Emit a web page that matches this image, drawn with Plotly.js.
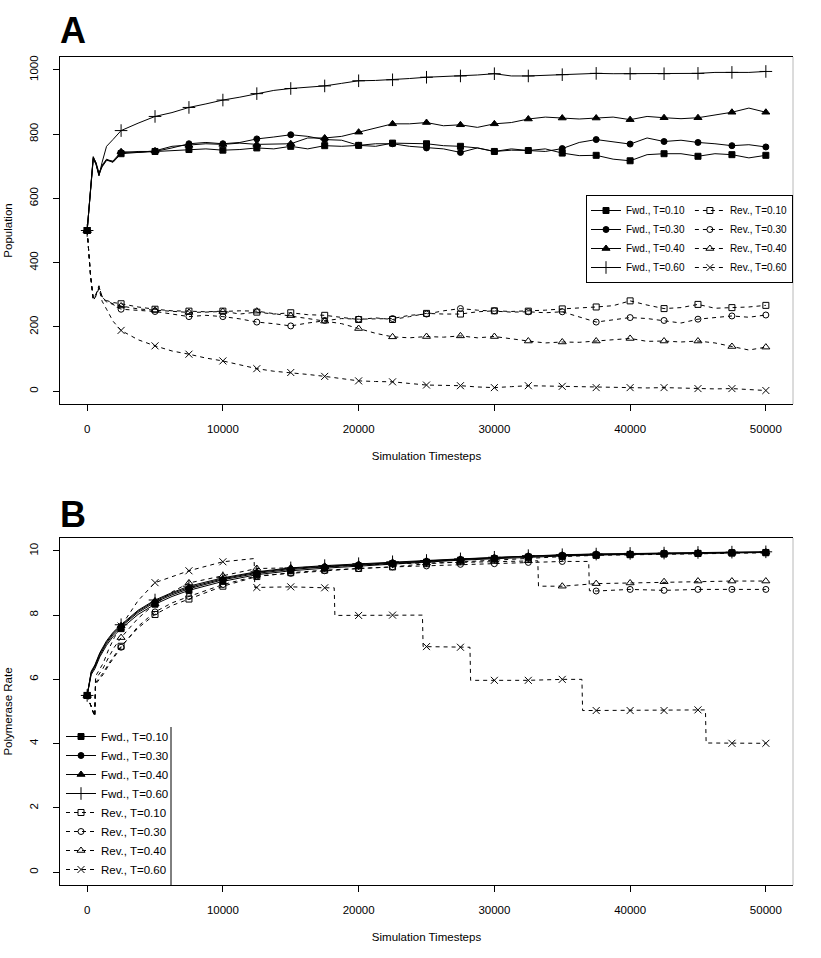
<!DOCTYPE html>
<html><head><meta charset="utf-8">
<script src="https://cdn.plot.ly/plotly-3.0.1.min.js"></script>
<style>html,body{margin:0;padding:0;background:#fff}</style>
</head><body><div id="chart" style="width:821px;height:958px"></div>
<script>
// ---------- tick labels ----------
const tickValsX = [0, 10000, 20000, 30000, 40000, 50000];
const tickTextX = ['0', '10000', '20000', '30000', '40000', '50000'];
const tickValsA = [0, 200, 400, 600, 800, 1000];
const tickTextA = ['0', '200', '400', '600', '800', '1000'];
const tickValsB = [0, 2, 4, 6, 8, 10];
const tickTextB = ['0', '2', '4', '6', '8', '10'];

const seriesNames = ['Fwd., T=0.10', 'Fwd., T=0.30', 'Fwd., T=0.40', 'Fwd., T=0.60',
                     'Rev., T=0.10', 'Rev., T=0.30', 'Rev., T=0.40', 'Rev., T=0.60'];

// ---------- Panel A : Population ----------
const xA = [0, 250, 450, 650, 870, 1100, 1430, 1900, 2500, 3750, 5000, 6250, 7500, 8750, 10000, 11250, 12500, 13750, 15000, 16250, 17500, 18750, 20000, 21250, 22500, 23750, 25000, 26250, 27500, 28750, 30000, 31250, 32500, 33750, 35000, 36250, 37500, 38750, 40000, 41250, 42500, 43750, 45000, 46250, 47500, 48750, 50000];
const fwdA10 = [500, 640, 725, 705, 672, 700, 720, 712, 739, 743, 746, 750, 752, 754, 750, 752, 757, 754, 762, 754, 764, 762, 765, 762, 772, 772, 770, 764, 762, 757, 746, 750, 749, 754, 741, 733, 734, 722, 717, 736, 739, 739, 731, 739, 736, 726, 734];
const fwdA30 = [500, 640, 722, 708, 675, 703, 722, 714, 742, 746, 746, 757, 770, 774, 770, 774, 785, 791, 798, 793, 783, 781, 765, 770, 770, 762, 757, 754, 743, 757, 746, 754, 749, 746, 755, 774, 783, 777, 769, 788, 777, 781, 774, 770, 764, 767, 760];
const fwdA40 = [500, 640, 728, 712, 680, 698, 718, 716, 745, 743, 748, 762, 765, 770, 768, 772, 768, 770, 770, 788, 788, 793, 806, 819, 832, 832, 836, 826, 829, 821, 832, 836, 847, 853, 850, 847, 850, 853, 845, 855, 851, 848, 851, 860, 868, 881, 868];
const fwdA60 = [500, 640, 730, 710, 670, 712, 762, 783, 811, 834, 855, 867, 883, 894, 906, 915, 926, 936, 942, 946, 950, 958, 966, 967, 969, 973, 977, 979, 981, 984, 988, 981, 981, 983, 985, 988, 989, 988, 988, 988, 988, 988, 989, 992, 992, 992, 995];
const revA10 = [500, 360, 290, 300, 325, 295, 282, 276, 272, 262, 255, 250, 249, 247, 249, 240, 246, 240, 244, 238, 236, 230, 223, 228, 223, 232, 242, 240, 240, 247, 250, 248, 249, 252, 256, 258, 262, 266, 281, 268, 257, 260, 270, 258, 260, 262, 267];
const revA30 = [500, 360, 285, 298, 322, 290, 278, 270, 255, 252, 248, 240, 232, 236, 232, 225, 215, 210, 203, 212, 220, 226, 224, 226, 226, 236, 240, 250, 257, 252, 250, 246, 247, 244, 247, 232, 215, 222, 229, 226, 220, 212, 224, 230, 234, 230, 237];
const revA40 = [500, 360, 288, 302, 328, 292, 280, 272, 265, 256, 252, 248, 245, 246, 248, 250, 249, 242, 235, 226, 218, 210, 195, 180, 169, 166, 170, 168, 172, 166, 170, 162, 156, 150, 153, 152, 156, 160, 164, 155, 156, 153, 156, 150, 139, 128, 137];
const revA60 = [500, 360, 282, 296, 320, 280, 255, 218, 189, 160, 141, 125, 115, 103, 94, 82, 70, 62, 58, 52, 46, 38, 32, 30, 29, 24, 19, 18, 17, 13, 11, 14, 17, 16, 15, 12, 11, 11, 11, 10, 11, 9, 8, 7, 8, 5, 2];

// ---------- Panel B : Polymerase Rate ----------
const xBf = [0, 300, 570, 935, 1430, 1920, 2500, 3750, 5000, 6250, 7500, 10000, 12500, 15000, 17500, 20000, 22500, 25000, 27500, 30000, 32500, 35000, 37500, 40000, 42500, 45000, 47500, 50000];
const fwdB10 = [5.5, 6.15, 6.33, 6.7, 7.06, 7.34, 7.58, 8.02, 8.34, 8.58, 8.77, 9.05, 9.26, 9.38, 9.46, 9.53, 9.6, 9.65, 9.71, 9.76, 9.81, 9.84, 9.87, 9.89, 9.91, 9.92, 9.94, 9.95];
const fwdB30 = [5.5, 6.2, 6.38, 6.75, 7.12, 7.4, 7.64, 8.08, 8.4, 8.63, 8.82, 9.1, 9.3, 9.42, 9.5, 9.56, 9.62, 9.67, 9.73, 9.78, 9.83, 9.86, 9.89, 9.9, 9.92, 9.93, 9.95, 9.96];
const fwdB40 = [5.5, 6.22, 6.42, 6.8, 7.16, 7.44, 7.67, 8.12, 8.44, 8.67, 8.86, 9.13, 9.33, 9.45, 9.52, 9.58, 9.64, 9.69, 9.74, 9.79, 9.84, 9.87, 9.9, 9.91, 9.93, 9.94, 9.95, 9.96];
const fwdB60 = [5.5, 6.25, 6.45, 6.83, 7.2, 7.47, 7.7, 8.15, 8.47, 8.7, 8.9, 9.16, 9.35, 9.47, 9.54, 9.6, 9.66, 9.7, 9.75, 9.8, 9.85, 9.88, 9.9, 9.92, 9.93, 9.95, 9.96, 9.97];
const xBr10 = [0, 560, 620, 1180, 1600, 2000, 2500, 3750, 5000, 6250, 7500, 10000, 12500, 15000, 17500, 20000, 22500, 25000, 27500, 30000, 32500, 35000, 37500, 40000, 42500, 45000, 47500, 50000];
const revB10 = [5.5, 4.85, 5.9, 6.2, 6.5, 6.75, 7.03, 7.6, 8.02, 8.3, 8.5, 8.9, 9.2, 9.32, 9.4, 9.45, 9.5, 9.6, 9.66, 9.72, 9.78, 9.82, 9.86, 9.88, 9.9, 9.92, 9.93, 9.94];
const xBr30 = [0, 560, 620, 1180, 1600, 2000, 2500, 3750, 5000, 6250, 7500, 10000, 12500, 15000, 17500, 20000, 22500, 25000, 27500, 30000, 32500, 35000, 36950, 37000, 37500, 40000, 42500, 45000, 47500, 50000];
const revB30 = [5.5, 4.85, 5.85, 6.15, 6.45, 6.7, 7.0, 7.65, 8.1, 8.38, 8.58, 8.95, 9.22, 9.3, 9.38, 9.45, 9.5, 9.53, 9.58, 9.6, 9.64, 9.67, 9.67, 8.76, 8.75, 8.8, 8.77, 8.8, 8.8, 8.8];
const xBr40 = [0, 560, 620, 1180, 1600, 2000, 2500, 3750, 5000, 6250, 7500, 10000, 12500, 15000, 17500, 20000, 22500, 25000, 27500, 30000, 32500, 33200, 33250, 35000, 37500, 40000, 42500, 45000, 47500, 50000];
const revB40 = [5.5, 4.85, 6.0, 6.35, 6.7, 7.0, 7.3, 7.9, 8.35, 8.72, 9.0, 9.22, 9.45, 9.47, 9.5, 9.55, 9.6, 9.62, 9.65, 9.67, 9.69, 9.69, 8.9, 8.9, 8.98, 9.0, 9.04, 9.06, 9.06, 9.06];
const xBr60 = [0, 560, 620, 1180, 1600, 2000, 2500, 3750, 5000, 6250, 7500, 10000, 12300, 12350, 12500, 15000, 17500, 18200, 18250, 20000, 22500, 24700, 24750, 25000, 27500, 28200, 28250, 30000, 32500, 35000, 36450, 36500, 37500, 40000, 42500, 45000, 45550, 45600, 47500, 50000];
const revB60 = [5.5, 4.85, 6.1, 6.5, 6.95, 7.3, 7.66, 8.45, 9.01, 9.2, 9.38, 9.66, 9.76, 8.86, 8.86, 8.88, 8.85, 8.85, 7.99, 7.99, 8.0, 8.0, 7.02, 7.02, 7.0, 7.0, 5.97, 5.97, 5.97, 6.0, 6.0, 5.03, 5.03, 5.03, 5.03, 5.05, 5.05, 4.02, 4.01, 4.01];

// ---------- styles ----------
const W = 821, H = 958;
const FONT = 'Liberation Sans, Arial, Helvetica, sans-serif';
const DASH = '4px,4px';
const MARK_STEP = 2500;
const styles = [
  {symbol: 'square', size: 6, dash: 'solid', group: 'fwd'},
  {symbol: 'circle', size: 6, dash: 'solid', group: 'fwd'},
  {symbol: 'triangle-up', size: 7, dash: 'solid', group: 'fwd'},
  {symbol: 'cross-thin', size: 9, dash: 'solid', group: 'fwd'},
  {symbol: 'square-open', size: 6, dash: DASH, group: 'rev'},
  {symbol: 'circle-open', size: 6, dash: DASH, group: 'rev'},
  {symbol: 'triangle-up-open', size: 7, dash: DASH, group: 'rev'},
  {symbol: 'x-thin', size: 7, dash: DASH, group: 'rev'}
];
const panelA = [[xA, fwdA10], [xA, fwdA30], [xA, fwdA40], [xA, fwdA60],
                [xA, revA10], [xA, revA30], [xA, revA40], [xA, revA60]];
const panelB = [[xBf, fwdB10], [xBf, fwdB30], [xBf, fwdB40], [xBf, fwdB60],
                [xBr10, revB10], [xBr30, revB30], [xBr40, revB40], [xBr60, revB60]];

const traces = [];
function addPanel(panel, xa, ya, legendId, useGroups) {
  const legendTraces = [];
  panel.forEach(function (pair, i) {
    const st = styles[i];
    const xs = pair[0], ys = pair[1];
    const line = {color: '#000', width: 1, dash: st.dash};
    const marker = {symbol: st.symbol, size: st.size, color: '#000', line: {color: '#000', width: 1}};
    traces.push({x: xs, y: ys, mode: 'lines', line: line, xaxis: xa, yaxis: ya,
                 showlegend: false, hoverinfo: 'skip'});
    const mx = [], my = [];
    xs.forEach(function (v, k) { if (v % MARK_STEP === 0) { mx.push(v); my.push(ys[k]); } });
    traces.push({x: mx, y: my, mode: 'markers', marker: marker, xaxis: xa, yaxis: ya,
                 showlegend: false, hoverinfo: 'skip'});
    const lt = {x: [null], y: [null], mode: 'lines+markers', name: seriesNames[i],
                line: line, marker: marker, xaxis: xa, yaxis: ya,
                legend: legendId, showlegend: true, hoverinfo: 'skip'};
    if (useGroups) lt.legendgroup = st.group;
    legendTraces.push(lt);
  });
  legendTraces.forEach(function (t) { traces.push(t); });
}
addPanel(panelA, 'x', 'y', 'legend', true);
addPanel(panelB, 'x2', 'y2', 'legend2', false);

const tickFont = {family: FONT, size: 11.5, color: '#000'};
const titleFont = {family: FONT, size: 11.5, color: '#000'};
function xAxis(anchor) {
  return {domain: [60 / W, 793 / W], range: [-2000, 52000], anchor: anchor,
          tickmode: 'array', tickvals: tickValsX, ticktext: tickTextX,
          ticks: 'outside', ticklen: 6, tickwidth: 1, tickcolor: '#000',
          showline: true, linecolor: '#000', linewidth: 1, mirror: true,
          showgrid: false, zeroline: false, tickfont: tickFont, ticklabelstandoff: 8,
          title: {text: 'Simulation Timesteps', font: titleFont, standoff: 18}};
}
function yAxis(anchor, dom, range, tv, tt, title) {
  return {domain: dom, range: range, anchor: anchor,
          tickmode: 'array', tickvals: tv, ticktext: tt, tickangle: -90,
          ticks: 'outside', ticklen: 6, tickwidth: 1, tickcolor: '#000',
          showline: true, linecolor: '#000', linewidth: 1, mirror: false,
          showgrid: false, zeroline: false, tickfont: tickFont, ticklabelstandoff: 10,
          title: {text: title, font: titleFont, standoff: 13}};
}

const layout = {
  width: W, height: H,
  margin: {l: 0, r: 0, t: 0, b: 0},
  paper_bgcolor: '#fff', plot_bgcolor: '#fff',
  hovermode: false,
  font: {family: FONT, color: '#000'},
  xaxis: xAxis('y'),
  yaxis: yAxis('x', [1 - 404 / H, 1 - 57 / H], [-40, 1040], tickValsA, tickTextA, 'Population'),
  xaxis2: xAxis('y2'),
  yaxis2: yAxis('x2', [1 - 885 / H, 1 - 538 / H], [-0.4, 10.4], tickValsB, tickTextB, 'Polymerase Rate'),
  legend: {x: 793 / W, xanchor: 'right', y: 1 - 195 / H, yanchor: 'top', orientation: 'h',
           traceorder: 'grouped', tracegroupgap: 0, bgcolor: '#fff', bordercolor: '#000', borderwidth: 1,
           font: {family: FONT, size: 10, color: '#000'}},
  legend2: {x: 61 / W, xanchor: 'left', y: 1 - 884 / H, yanchor: 'bottom', orientation: 'v',
            bgcolor: 'rgba(0,0,0,0)', borderwidth: 0,
            font: {family: FONT, size: 11.5, color: '#000'}},
  shapes: [
    {type: 'line', xref: 'x domain', yref: 'y domain', x0: 1, x1: 1, y0: 0, y1: 1, line: {color: '#b8b8b8', width: 1}},
    {type: 'line', xref: 'x2 domain', yref: 'y2 domain', x0: 1, x1: 1, y0: 0, y1: 1, line: {color: '#b8b8b8', width: 1}},
    {type: 'line', xref: 'paper', yref: 'paper', x0: 171 / W, x1: 171 / W, y0: 1 - 885 / H, y1: 1 - 727 / H, line: {color: '#000', width: 1}}
  ],
  annotations: [
    {text: '<b>A</b>', xref: 'paper', yref: 'paper', x: 58 / W, y: 1 - 31 / H, xanchor: 'left', yanchor: 'middle',
     showarrow: false, font: {family: FONT, size: 36, color: '#000'}},
    {text: '<b>B</b>', xref: 'paper', yref: 'paper', x: 58 / W, y: 1 - 514 / H, xanchor: 'left', yanchor: 'middle',
     showarrow: false, font: {family: FONT, size: 36, color: '#000'}}
  ]
};

Plotly.newPlot('chart', traces, layout, {displayModeBar: false, staticPlot: true});
</script>
</body></html>
